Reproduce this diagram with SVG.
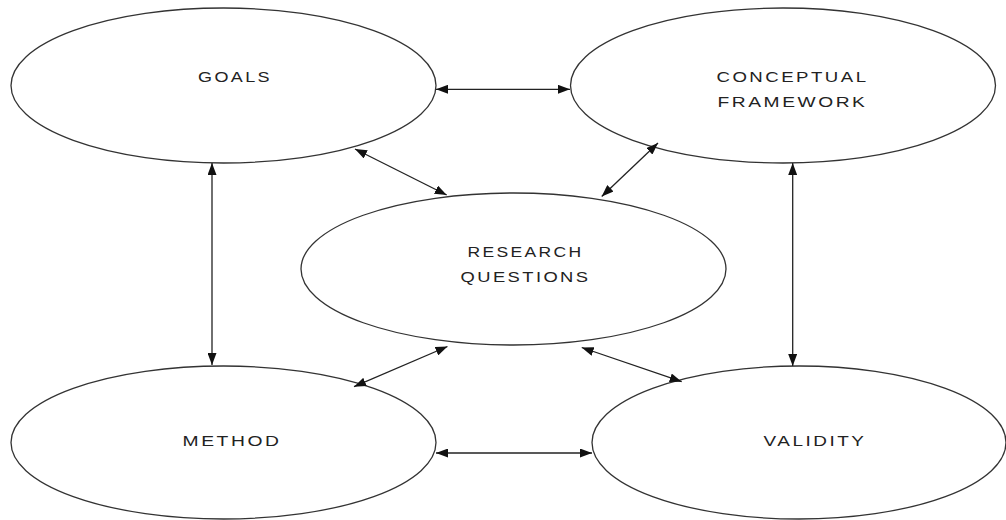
<svg xmlns="http://www.w3.org/2000/svg" width="1006" height="520" viewBox="0 0 1006 520">
<style>
.node ellipse{fill:#fff;stroke:#333;stroke-width:1.3}
.node text{font-family:"Liberation Sans",Arial,sans-serif;font-size:15px;letter-spacing:2px;fill:#222;text-anchor:middle}
.conn line{stroke:#222;stroke-width:1.3;marker-start:url(#ah);marker-end:url(#ah)}
</style>
<defs>
<marker id="ah" markerUnits="userSpaceOnUse" markerWidth="12" markerHeight="9" refX="12" refY="4.5" orient="auto-start-reverse">
<path d="M0,0 L12,4.5 L0,9 z" fill="#111"/>
</marker>
</defs>
<rect width="1006" height="520" fill="#fff"/>
<g id="goals" class="node">
<ellipse cx="223.5" cy="85.5" rx="212.5" ry="77.5"/>
<text x="235" y="82" textLength="74" lengthAdjust="spacingAndGlyphs">GOALS</text>
</g>
<g id="conceptual-framework" class="node">
<ellipse cx="783" cy="85.5" rx="212.5" ry="77.5"/>
<text x="792.5" y="82" textLength="152" lengthAdjust="spacingAndGlyphs">CONCEPTUAL</text>
<text x="792.5" y="107" textLength="150" lengthAdjust="spacingAndGlyphs">FRAMEWORK</text>
</g>
<g id="research-questions" class="node">
<ellipse cx="513.5" cy="269" rx="212.5" ry="76"/>
<text x="525.5" y="257" textLength="116" lengthAdjust="spacingAndGlyphs">RESEARCH</text>
<text x="525.5" y="282" textLength="130" lengthAdjust="spacingAndGlyphs">QUESTIONS</text>
</g>
<g id="method" class="node">
<ellipse cx="223.5" cy="442.5" rx="212.5" ry="76.5"/>
<text x="232" y="446" textLength="99" lengthAdjust="spacingAndGlyphs">METHOD</text>
</g>
<g id="validity" class="node">
<ellipse cx="799" cy="442.5" rx="207" ry="76.5"/>
<text x="815" y="446" textLength="103" lengthAdjust="spacingAndGlyphs">VALIDITY</text>
</g>
<g id="connectors" class="conn">
<line x1="436" y1="89.3" x2="570" y2="89.3"/>
<line x1="212" y1="163" x2="212" y2="365"/>
<line x1="792.7" y1="163" x2="792.7" y2="366"/>
<line x1="436" y1="453" x2="592" y2="453"/>
<line x1="355" y1="149" x2="446.7" y2="195"/>
<line x1="658" y1="143" x2="601.7" y2="196.5"/>
<line x1="354" y1="386.7" x2="447.5" y2="346.5"/>
<line x1="681.7" y1="381.7" x2="581.7" y2="347.5"/>
</g>
</svg>
